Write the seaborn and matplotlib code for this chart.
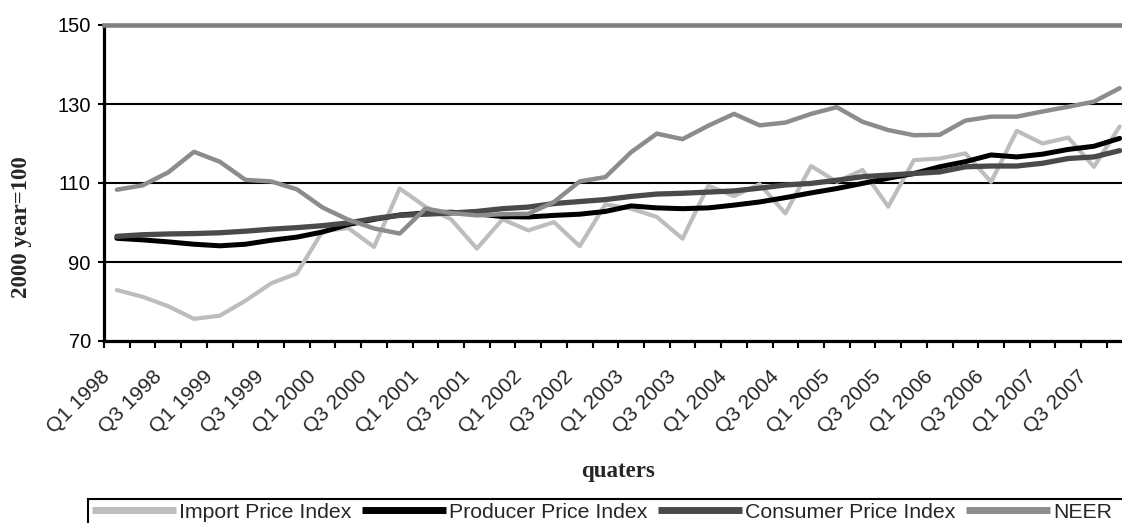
import numpy as np
import pandas as pd
import matplotlib
matplotlib.use("Agg")
import matplotlib.pyplot as plt
import seaborn as sns
from matplotlib.patches import Rectangle
from matplotlib.lines import Line2D

# Quarterly indices, 2000 = 100
quarters = [f"Q{q} {y}" for y in range(1998, 2008) for q in range(1, 5)]

import_price = [82.9, 81.2, 78.8, 75.6, 76.4, 80.2, 84.6, 87.1, 97.8, 98.6,
                93.8, 108.6, 104.0, 100.8, 93.4, 100.8, 98.0, 100.1, 94.0, 104.6,
                103.5, 101.4, 95.9, 109.3, 106.7, 109.7, 102.3, 114.3, 110.3, 113.3,
                104.0, 115.8, 116.2, 117.5, 110.3, 123.2, 120.0, 121.5, 114.1, 124.3]
producer_price = [96.0, 95.6, 95.1, 94.5, 94.1, 94.5, 95.5, 96.3, 97.6, 99.5,
                  100.8, 101.9, 102.4, 102.6, 102.2, 101.5, 101.4, 101.8, 102.1, 102.8,
                  104.2, 103.7, 103.5, 103.7, 104.4, 105.2, 106.3, 107.5, 108.6, 109.9,
                  111.2, 112.4, 114.1, 115.4, 117.1, 116.6, 117.3, 118.5, 119.3, 121.3]
consumer_price = [96.5, 96.9, 97.1, 97.2, 97.4, 97.8, 98.3, 98.7, 99.2, 99.9,
                  101.0, 101.8, 102.1, 102.4, 102.8, 103.5, 103.9, 104.8, 105.3, 105.8,
                  106.6, 107.2, 107.4, 107.7, 108.0, 108.7, 109.5, 109.9, 110.7, 111.6,
                  112.0, 112.4, 112.8, 114.1, 114.3, 114.3, 115.0, 116.2, 116.6, 118.2]
neer = [108.3, 109.4, 112.7, 117.9, 115.4, 110.8, 110.4, 108.4, 103.8, 100.7,
        98.5, 97.2, 103.5, 102.4, 101.8, 102.1, 102.2, 105.2, 110.4, 111.5,
        117.8, 122.5, 121.1, 124.5, 127.5, 124.6, 125.3, 127.5, 129.2, 125.5,
        123.4, 122.1, 122.2, 125.8, 126.8, 126.8, 128.1, 129.3, 130.6, 134.0]

series_names = ["Import Price Index", "Producer Price Index",
                "Consumer Price Index", "NEER"]
y_ticks = [70, 90, 110, 130, 150]

df = pd.DataFrame({
    "pos": np.arange(len(quarters)),
    "quarter": quarters,
    series_names[0]: import_price,
    series_names[1]: producer_price,
    series_names[2]: consumer_price,
    series_names[3]: neer,
}).melt(id_vars=["pos", "quarter"], var_name="series", value_name="value")

sns.set_style("white")
plt.rcParams["font.family"] = ["Liberation Sans", "DejaVu Sans"]

W, H = 1122, 523
fig = plt.figure(figsize=(W / 100, H / 100), dpi=100)
ax = fig.add_axes([104 / W, (H - 341) / H, 1028.5 / W, 316 / H])

styles = {
    "Import Price Index": dict(color="#bdbdbd", lw=3.0),
    "Producer Price Index": dict(color="#000000", lw=3.6),
    "Consumer Price Index": dict(color="#4a4a4a", lw=3.8),
    "NEER": dict(color="#8c8c8c", lw=3.2),
}

for i, name in enumerate(series_names):
    st = styles[name]
    sns.lineplot(data=df[df["series"] == name], x="pos", y="value",
                 color=st["color"], linewidth=st["lw"], ax=ax, legend=False,
                 zorder=3 + i)

ax.set_xlim(-0.5, len(quarters) - 0.5)
ax.set_ylim(70, 150)
ax.set_xlabel("")
ax.set_ylabel("")

# y axis and horizontal grid
ax.set_yticks(y_ticks)
ax.yaxis.grid(True, color="black", linewidth=1.5)
ax.xaxis.grid(False)
ax.tick_params(axis="y", direction="out", length=4.5, width=1.5,
               pad=5, labelsize=14.5, left=True, colors="black")

# category boundaries carry the tick marks, labels sit on every second quarter
ax.set_xticks(np.arange(-0.5, len(quarters), 1.0))
ax.set_xticklabels([])
ax.tick_params(axis="x", which="major", direction="out", length=5,
               width=1.5, bottom=True, colors="black")
label_shift = -0.23  # nudge rotated labels so their ends sit just left of the point
ax.set_xticks(np.arange(0, len(quarters), 2) + label_shift, quarters[::2],
              minor=True)
ax.tick_params(axis="x", which="minor", length=0, pad=26.5, labelsize=15)
for lab in ax.get_xticklabels(minor=True):
    lab.set_rotation(45)
    lab.set_ha("right")
    lab.set_va("baseline")
    lab.set_rotation_mode("anchor")

for side in ("left", "bottom"):
    ax.spines[side].set_color("black")
    ax.spines[side].set_linewidth(2.3)
ax.spines["top"].set_color("#808080")
ax.spines["top"].set_linewidth(3.3)
ax.spines["right"].set_visible(False)

# axis titles
fig.text(22 / W, 1 - 227 / H, "2000 year=100", rotation=90, ha="center",
         va="center", fontsize=16.5, fontweight="bold",
         family=["Liberation Serif", "DejaVu Serif"])
fig.text(618 / W, 1 - 472 / H, "quaters", ha="center", va="center",
         fontsize=16.5, fontweight="bold",
         family=["Liberation Serif", "DejaVu Serif"])

# legend along the bottom, framed by an open box
handles = [Line2D([0], [0], color=styles[n]["color"], lw=5,
                  solid_capstyle="butt") for n in series_names]
fig.legend(handles, series_names, loc="center left",
           bbox_to_anchor=(92 / W, 1 - 512 / H), ncol=4, frameon=False,
           handlelength=3.95, handletextpad=0.15, columnspacing=0.5,
           borderpad=0, borderaxespad=0, fontsize=15.3)
fig.add_artist(Rectangle((88 / W, 1 - 499 / H - 0.2), 1.0, 0.2,
                         transform=fig.transFigure, fill=False,
                         edgecolor="black", linewidth=1.5, clip_on=False))

fig.savefig("out.png", dpi=100)
